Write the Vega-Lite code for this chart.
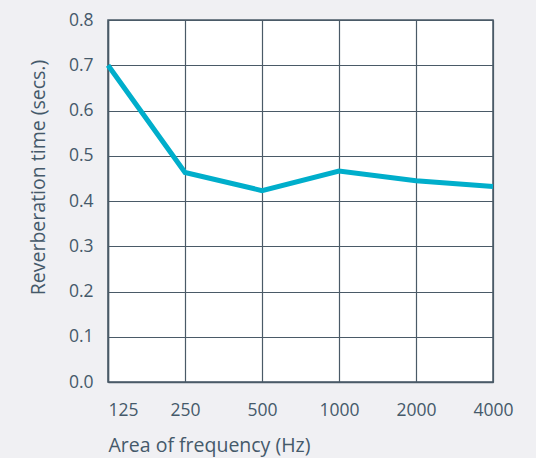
{
  "$schema": "https://vega.github.io/schema/vega-lite/v6.json",
  "autosize": {"type": "none"},
  "padding": {"left": 108, "top": 20, "right": 43, "bottom": 76},
  "width": 385,
  "height": 362,
  "background": "#f0f0f3",
  "config": {
    "font": "Open Sans",
    "view": {"fill": "white", "stroke": "#4a5a67", "strokeWidth": 1.5},
    "axis": {
      "labelFont": "Open Sans",
      "titleFont": "Open Sans",
      "labelColor": "#45596a",
      "titleColor": "#45596a",
      "labelFontSize": 17.5,
      "titleFontSize": 19.5,
      "titleFontWeight": "normal",
      "gridColor": "#4a5a67",
      "gridWidth": 1.2,
      "gridOpacity": 1,
      "ticks": false,
      "domainColor": "#4a5a67",
      "domainWidth": 1.5
    }
  },
  "data": {
    "values": [
      {"freq": "125", "rt": 0.70},
      {"freq": "250", "rt": 0.463},
      {"freq": "500", "rt": 0.423},
      {"freq": "1000", "rt": 0.466},
      {"freq": "2000", "rt": 0.445},
      {"freq": "4000", "rt": 0.432}
    ]
  },
  "mark": {"type": "line", "color": "#00aecb", "strokeWidth": 5, "strokeJoin": "miter"},
  "encoding": {
    "x": {
      "field": "freq",
      "type": "ordinal",
      "sort": null,
      "scale": {"type": "point", "padding": 0},
      "axis": {
        "title": "Area of frequency (Hz)",
        "titleAnchor": "start",
        "titleAlign": "left",
        "titlePadding": 18,
        "labelPadding": 19,
        "labelAngle": 0,
        "labelAlign": {"expr": "datum.index == 0 ? 'left' : 'center'"},
        "grid": true
      }
    },
    "y": {
      "field": "rt",
      "type": "quantitative",
      "scale": {"domain": [0, 0.8], "nice": false},
      "axis": {
        "title": "Reverberation time (secs.)",
        "values": [0, 0.1, 0.2, 0.3, 0.4, 0.5, 0.6, 0.7, 0.8],
        "format": ".1f",
        "labelPadding": 15,
        "titleX": -70,
        "titleY": 157,
        "titleAngle": 270,
        "titleAlign": "center",
        "titleBaseline": "middle",
        "grid": true
      }
    }
  }
}
